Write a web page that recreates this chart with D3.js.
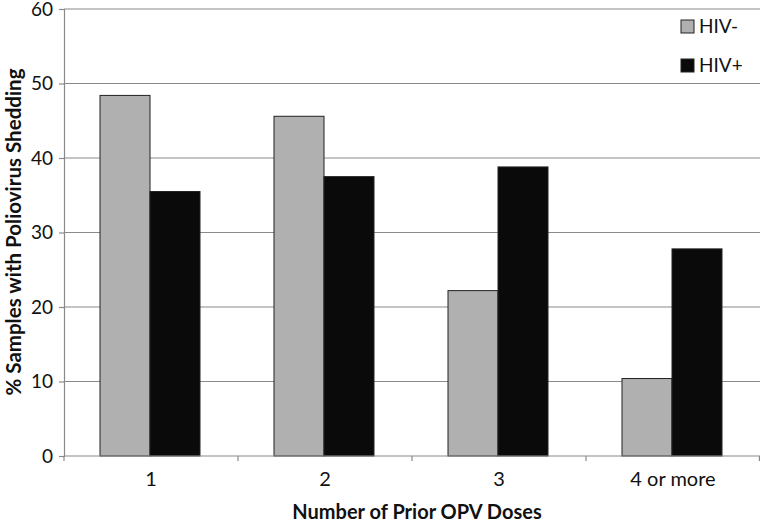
<!DOCTYPE html>
<html>
<head>
<meta charset="utf-8">
<script src="https://cdn.jsdelivr.net/npm/d3@7"></script>
<style>
  body { margin: 0; background: #fff; }
  text { font-family: Lato, "Open Sans", sans-serif; }
</style>
</head>
<body>
<script>
// Data
const doses = ['1', '2', '3', '4 or more'];
const groups = ['HIV-', 'HIV+'];
const hivNeg = [48.4, 45.6, 22.2, 10.4];
const hivPos = [35.5, 37.5, 38.8, 27.8];
const yTicks = [0, 10, 20, 30, 40, 50, 60];
const colors = ['#b0b0b0', '#0a0a0a'];

const width = 760;
const height = 522;
const margin = { top: 9, right: 0, bottom: 66, left: 64 };
const innerW = width - margin.left - margin.right;
const innerH = height - margin.top - margin.bottom;

const svg = d3.select('body')
    .append('svg')
    .attr('width', width)
    .attr('height', height);

const g = svg.append('g')
    .attr('transform', `translate(${margin.left},${margin.top})`);

// Scales
const xScale = d3.scaleBand()
    .domain(doses)
    .range([0, innerW])
    .paddingInner(0)
    .paddingOuter(0);

const xInner = d3.scaleBand()
    .domain(groups)
    .range([36, xScale.bandwidth() - 38]);

const yScale = d3.scaleLinear()
    .domain([0, 60])
    .range([innerH, 0]);

// Gridlines
g.selectAll('.grid')
    .data(yTicks.filter(d => d > 0))
    .enter().append('line')
    .attr('x1', 0)
    .attr('x2', innerW)
    .attr('y1', d => yScale(d))
    .attr('y2', d => yScale(d))
    .attr('stroke', '#8a8a8a')
    .attr('stroke-width', 1.2);

// Bars
const rows = doses.map((d, i) => ({ dose: d, values: [hivNeg[i], hivPos[i]] }));

const groupsG = g.selectAll('.dose')
    .data(rows)
    .enter().append('g')
    .attr('transform', d => `translate(${xScale(d.dose)},0)`);

groupsG.selectAll('rect')
    .data(d => d.values.map((v, j) => ({ key: groups[j], value: v, j })))
    .enter().append('rect')
    .attr('x', d => xInner(d.key))
    .attr('y', d => yScale(d.value))
    .attr('width', xInner.bandwidth())
    .attr('height', d => innerH - yScale(d.value))
    .attr('fill', d => colors[d.j])
    .attr('stroke', '#222')
    .attr('stroke-width', 1);

// Y axis
const yAxis = g.append('g')
    .call(d3.axisLeft(yScale).tickValues(yTicks).tickSize(5).tickPadding(6));
yAxis.select('.domain').attr('stroke', '#8a8a8a').attr('stroke-width', 1.2);
yAxis.selectAll('.tick line').attr('stroke', '#8a8a8a').attr('stroke-width', 1.2);
yAxis.selectAll('.tick text')
    .style('font-size', '19px')
    .attr('fill', '#111')
    .style('font-family', 'Lato, sans-serif');

// X axis with ticks at category boundaries
const xAxisG = g.append('g')
    .attr('transform', `translate(0,${innerH})`);
xAxisG.append('line')
    .attr('x1', 0).attr('x2', innerW)
    .attr('y1', 0).attr('y2', 0)
    .attr('stroke', '#8a8a8a')
    .attr('stroke-width', 1.2);
const boundaries = doses.map(d => xScale(d)).concat([xScale(doses[doses.length - 1]) + xScale.bandwidth()]);
xAxisG.selectAll('.xtick')
    .data(boundaries)
    .enter().append('line')
    .attr('x1', d => Math.min(d, innerW - 0.6))
    .attr('x2', d => Math.min(d, innerW - 0.6))
    .attr('y1', 0).attr('y2', 5)
    .attr('stroke', '#8a8a8a')
    .attr('stroke-width', 1.2);
xAxisG.selectAll('.xlabel')
    .data(doses)
    .enter().append('text')
    .attr('x', d => xScale(d) + xScale.bandwidth() / 2)
    .attr('y', 30)
    .attr('text-anchor', 'middle')
    .style('font-size', '20px')
    .attr('fill', '#111')
    .text(d => d);

// Axis titles
svg.append('text')
    .attr('x', 417)
    .attr('y', 519)
    .attr('text-anchor', 'middle')
    .style('font-size', '20px')
    .style('font-weight', 'bold')
    .attr('fill', '#111')
    .text('Number of Prior OPV Doses');

svg.append('text')
    .attr('transform', 'translate(21,232) rotate(-90)')
    .attr('text-anchor', 'middle')
    .style('font-size', '20.5px')
    .style('font-weight', 'bold')
    .attr('fill', '#111')
    .text('% Samples with Poliovirus Shedding');

// Legend
const legend = svg.append('g')
    .attr('transform', 'translate(681,20)');
const items = legend.selectAll('g')
    .data(groups)
    .enter().append('g')
    .attr('transform', (d, i) => `translate(0,${i * 39})`);
items.append('rect')
    .attr('width', 13)
    .attr('height', 13)
    .attr('fill', (d, i) => colors[i])
    .attr('stroke', '#222')
    .attr('stroke-width', 1);
items.append('text')
    .attr('x', 18)
    .attr('y', 13)
    .style('font-size', '19px')
    .attr('fill', '#111')
    .text(d => d);
</script>
</body>
</html>
